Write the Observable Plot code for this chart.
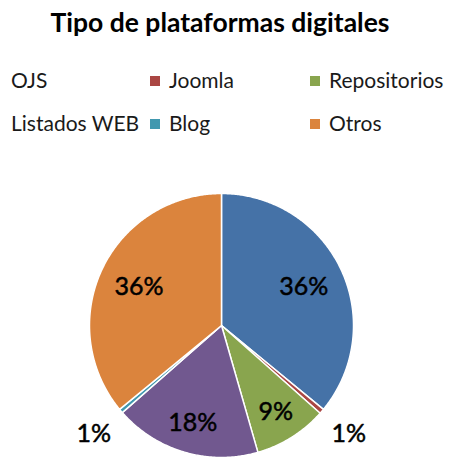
<!DOCTYPE html>
<html><head><meta charset="utf-8">
<script src="https://cdn.jsdelivr.net/npm/d3@7"></script>
<script src="https://cdn.jsdelivr.net/npm/@observablehq/plot@0.6"></script>
<style>
body{margin:0;background:#fff;font-family:Lato,"Open Sans",sans-serif;}
#wrap{position:relative;width:451px;height:462px;overflow:hidden}
#title{position:absolute;left:0;width:440px;text-align:center;top:6px;font-weight:bold;font-size:26.5px;color:#000}
.leg{position:absolute;font-size:21px;color:#1a1a1a;line-height:24px;white-space:nowrap}
.sw{position:absolute;width:10px;height:10px}
#chart{position:absolute;left:0;top:180px}
</style></head>
<body>
<div id="wrap">
  <div id="title">Tipo de plataformas digitales</div>
  <div id="legend"></div>
  <div id="chart"></div>
</div>
<script>
// Data
const categories = ["OJS", "Joomla", "Repositorios", "Listados WEB", "Blog", "Otros"];
const values = [36, 0.6, 9, 18, 0.5, 36];
const pctLabels = ["36%", "1%", "9%", "18%", "1%", "36%"];
const colors = ["#4572A7", "#AA4643", "#89A54E", "#71588F", "#4198AF", "#DB843D"];
const showSwatch = [false, true, true, false, true, true];

// Legend (HTML, above the SVG)
const legend = document.getElementById("legend");
const colX = [11, 150, 310];
const rowTop = [68, 111];
categories.forEach((c, i) => {
  const col = i % 3, row = Math.floor(i / 3);
  if (showSwatch[i]) {
    const sw = document.createElement("div");
    sw.className = "sw";
    sw.style.left = colX[col] + "px";
    sw.style.top = (rowTop[row] + 8) + "px";
    sw.style.background = colors[i];
    legend.appendChild(sw);
  }
  const t = document.createElement("div");
  t.className = "leg";
  t.textContent = c;
  t.style.left = (colX[col] + (col === 0 ? 0 : 19)) + "px";
  t.style.top = rowTop[row] + "px";
  legend.appendChild(t);
});

// Pie geometry from data (angles clockwise from top, y up)
const total = d3.sum(values);
const slices = [];
const labels = [];
let acc = 0;
values.forEach((v, i) => {
  const a0 = acc / total * 2 * Math.PI;
  acc += v;
  const a1 = acc / total * 2 * Math.PI;
  const n = Math.max(2, Math.ceil((a1 - a0) / (Math.PI / 360)));
  slices.push({name: categories[i], x: 0, y: 0});
  for (let k = 0; k <= n; k++) {
    const a = a0 + (a1 - a0) * k / n;
    slices.push({name: categories[i], x: Math.sin(a), y: Math.cos(a)});
  }
  const m = (a0 + a1) / 2;
  const frac = v / total;
  const r = frac < 0.02 ? 1.27 : frac > 0.3 ? 0.69 : 0.77;
  labels.push({name: categories[i], text: pctLabels[i], x: r * Math.sin(m), y: r * Math.cos(m)});
});

const plot = Plot.plot({
  width: 451,
  height: 282,
  marginLeft: 89,
  marginRight: 98,
  marginTop: 13,
  marginBottom: 5,
  x: {domain: [-1, 1], axis: null},
  y: {domain: [-1, 1], axis: null},
  color: {domain: categories, range: colors},
  style: {overflow: "visible", background: "transparent"},
  marks: [
    Plot.line(slices, {x: "x", y: "y", z: "name", fill: "name", stroke: "white", strokeWidth: 1.5, curve: "linear-closed", strokeLinejoin: "round"}),
    Plot.text(labels, {x: "x", y: "y", text: "text", fill: "#000", stroke: "#000", strokeWidth: 0.5, fontSize: 25, fontFamily: "Lato, sans-serif"})
  ]
});
document.getElementById("chart").appendChild(plot);
</script>
</body></html>
